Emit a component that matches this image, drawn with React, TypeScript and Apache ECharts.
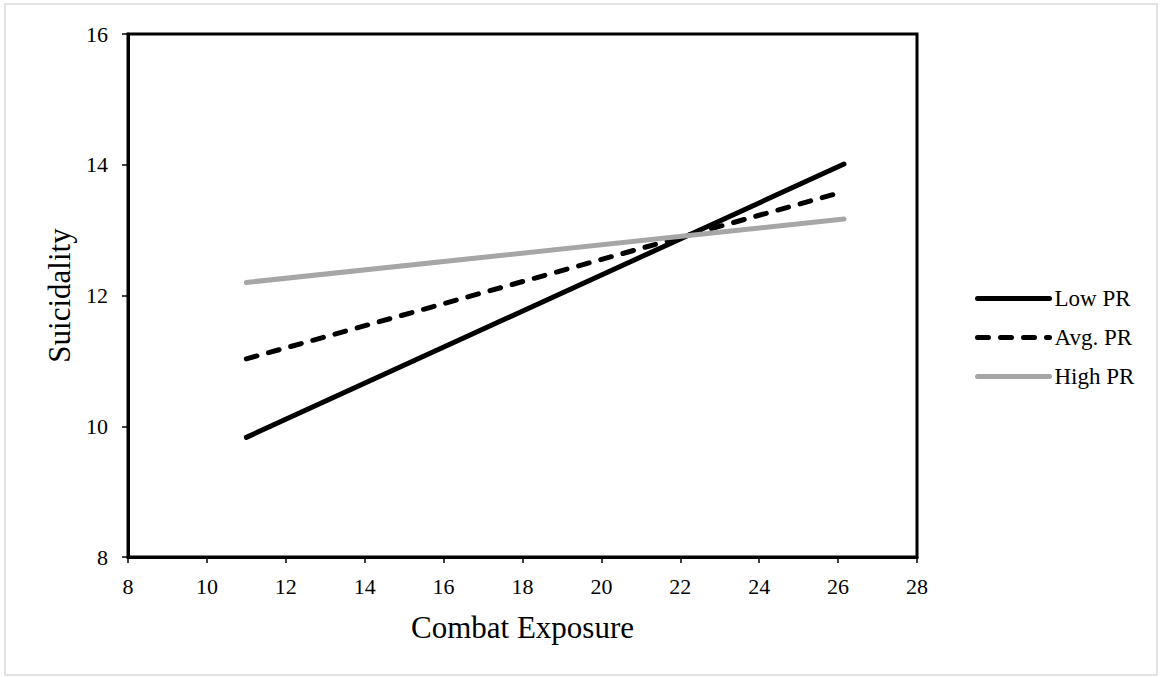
import React, { useEffect, useRef } from "react";
import * as echarts from "echarts";

const combatExposure = [11, 26.15];
const lowPR = [9.83, 14.01];
const avgPR = [11.03, 13.59];
const highPR = [12.2, 13.17];
const seriesNames = ["Low PR", "Avg. PR", "High PR"];

const FONT = "'Liberation Serif', 'Times New Roman', serif";

export default function App() {
  const ref = useRef<HTMLDivElement>(null);
  useEffect(() => {
    document.body.style.margin = "0";
    const chart = echarts.init(ref.current!, null, { renderer: "svg" });
    const mk = (vals: number[]) => combatExposure.map((x, i) => [x, vals[i]]);
    chart.setOption({
      animation: false,
      backgroundColor: "#fff",
      textStyle: { fontFamily: FONT, color: "#000" },
      graphic: [
        {
          type: "rect",
          shape: { x: 5, y: 4, width: 1152, height: 671 },
          style: { fill: "none", stroke: "#d9d9d9", lineWidth: 1.5 },
          silent: true,
        },
      ],
      grid: {
        left: 128,
        top: 34,
        right: 243,
        bottom: 120,
        show: true,
        borderColor: "#000",
        borderWidth: 3,
        backgroundColor: "transparent",
      },
      legend: {
        orient: "vertical",
        left: 970,
        top: 282,
        itemWidth: 72,
        itemHeight: 14,
        itemGap: 16,
        itemTextGap: 6,
        itemStyle: { opacity: 0 },
        lineStyle: { width: 5, cap: "round" },
        textStyle: { fontFamily: FONT, fontSize: 23, color: "#000" },
        data: seriesNames,
      },
      xAxis: {
        type: "value",
        min: 8,
        max: 28,
        interval: 2,
        name: "Combat Exposure",
        nameLocation: "middle",
        nameGap: 55,
        nameTextStyle: { fontFamily: FONT, fontSize: 31, color: "#000" },
        axisLine: { show: true, lineStyle: { color: "#000", width: 3 } },
        axisTick: { show: true, length: 6, lineStyle: { color: "#000", width: 1.5 } },
        axisLabel: { fontFamily: FONT, fontSize: 22, color: "#000", margin: 18 },
        splitLine: { show: false },
      },
      yAxis: {
        type: "value",
        min: 8,
        max: 16,
        interval: 2,
        name: "Suicidality",
        nameLocation: "middle",
        nameGap: 50,
        nameTextStyle: { fontFamily: FONT, fontSize: 31, color: "#000" },
        axisLine: { show: true, lineStyle: { color: "#000", width: 3 } },
        axisTick: { show: true, length: 6, lineStyle: { color: "#000", width: 1.5 } },
        axisLabel: { fontFamily: FONT, fontSize: 22, color: "#000", margin: 20 },
        splitLine: { show: false },
      },
      series: [
        {
          name: seriesNames[0],
          type: "line",
          data: mk(lowPR),
          symbol: "none",
          lineStyle: { color: "#000", width: 5, cap: "round" },
          itemStyle: { color: "#000" },
        },
        {
          name: seriesNames[1],
          type: "line",
          data: mk(avgPR),
          symbol: "none",
          lineStyle: { color: "#000", width: 5, type: [11, 12], cap: "round" },
          itemStyle: { color: "#000" },
        },
        {
          name: seriesNames[2],
          type: "line",
          data: mk(highPR),
          symbol: "none",
          lineStyle: { color: "#a6a6a6", width: 5, cap: "round" },
          itemStyle: { color: "#a6a6a6" },
        },
      ],
    });
    return () => chart.dispose();
  }, []);
  return <div ref={ref} style={{ width: 1160, height: 677 }} />;
}
